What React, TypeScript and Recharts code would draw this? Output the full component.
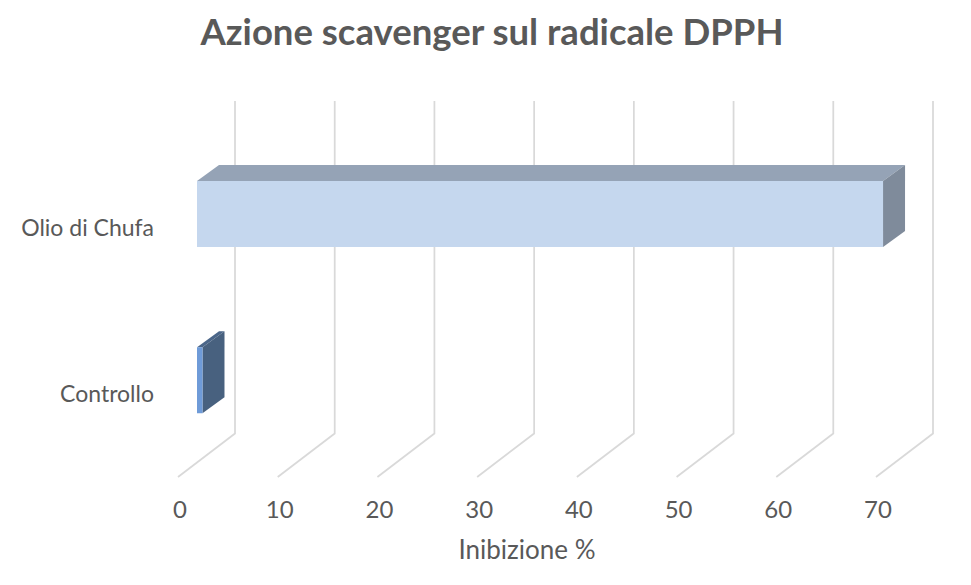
import { BarChart, Bar, XAxis, YAxis, CartesianGrid } from 'recharts'

const categories = ['Olio di Chufa', 'Controllo']
const inibizione = [68.8, 0.55]
const xTicks = [0, 10, 20, 30, 40, 50, 60, 70]

// colours of the three visible faces of each box
const faceColors = ['#c5d7ee', '#6f9bd8']
const topColors = ['#95a3b6', '#4b6689']
const sideColors = ['#7f8b9b', '#48617f']

const data = categories.map((name, i) => ({ name, value: inibizione[i] }))

// oblique projection used by the Excel 3D chart
const DEPTH_X = 57 // floor depth
const DEPTH_Y = 43.5
const BAR_X = 19 // bars sit a third of the way into the floor
const BAR_Y = 13.5
const BOX_X = 22 // thickness of each bar
const BOX_Y = 16

const TEXT = '#595959'
const FONT = 'Lato, "Open Sans", sans-serif'

// floor diagonal + back wall line for each x tick
const wallLine = (p: any) => {
  const { x1, y1, y2 } = p
  return (
    <polyline
      key={p.key}
      points={`${x1},${y2} ${x1 + DEPTH_X},${y2 - DEPTH_Y} ${x1 + DEPTH_X},${y1 - DEPTH_Y}`}
      fill="none"
      stroke="#d9d9d9"
      strokeWidth={1.75}
    />
  )
}

const Box3D = (props: any) => {
  const { x, y, width, height } = props
  let i = props.index
  if (i === undefined) i = categories.indexOf(props.payload?.name)
  const w = Math.max(width, 0)
  const fx = x + BAR_X
  const fy = y - BAR_Y
  const top = `${fx},${fy} ${fx + w},${fy} ${fx + w + BOX_X},${fy - BOX_Y} ${fx + BOX_X},${fy - BOX_Y}`
  const side = `${fx + w},${fy} ${fx + w + BOX_X},${fy - BOX_Y} ${fx + w + BOX_X},${fy + height - BOX_Y} ${fx + w},${fy + height}`
  return (
    <g>
      <polygon points={top} fill={topColors[i]} />
      <polygon points={side} fill={sideColors[i]} />
      <rect x={fx} y={fy} width={w} height={height} fill={faceColors[i]} />
    </g>
  )
}

export default function App() {
  return (
    <div style={{ position: 'absolute', left: 0, top: 0, width: 971, height: 585, background: '#fff' }}>
      <svg width={971} height={70} style={{ position: 'absolute', left: 0, top: 0 }}>
        <text x={492} y={45} textAnchor="middle" fill={TEXT} fontFamily={FONT} fontWeight={700} fontSize={36.5}>
          Azione scavenger sul radicale DPPH
        </text>
      </svg>
      <BarChart
        width={971}
        height={585}
        data={data}
        layout="vertical"
        margin={{ top: 144.5, right: 95, bottom: 8, left: 0 }}
        style={{ position: 'absolute', left: 0, top: 0 }}
      >
        <CartesianGrid horizontal={false} vertical={wallLine} />
        <XAxis
          type="number"
          domain={[0, 70]}
          ticks={xTicks}
          tickLine={false}
          axisLine={false}
          tickSize={0}
          tickMargin={24}
          height={100}
          tick={{ fill: TEXT, fontSize: 24, fontFamily: FONT, dx: 2 }}
          label={{ value: 'Inibizione %', position: 'insideBottom', offset: 18, fill: TEXT, fontSize: 26, fontFamily: FONT }}
        />
        <YAxis
          type="category"
          dataKey="name"
          width={178}
          tickLine={false}
          axisLine={false}
          tickSize={0}
          tickMargin={24}
          tick={{ fill: TEXT, fontSize: 23, fontFamily: FONT }}
        />
        <Bar dataKey="value" barSize={66} shape={Box3D} isAnimationActive={false} />
      </BarChart>
    </div>
  )
}
